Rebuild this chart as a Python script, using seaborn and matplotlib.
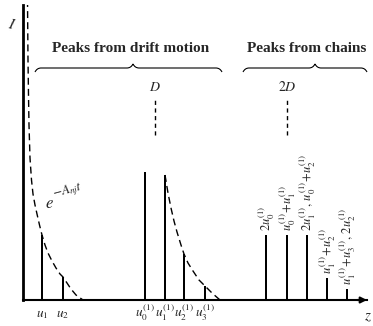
import matplotlib
matplotlib.use("Agg")
import matplotlib.pyplot as plt
import numpy as np
import pandas as pd
import seaborn as sns
from matplotlib.path import Path
from matplotlib.patches import PathPatch

# Peak positions (z) and intensities
drift_pos = [19, 40, 122, 142, 161, 182]
drift_h = [65, 23, 128, 125, 46, 14]
drift_labels = [r"$u_1$", r"$u_2$", r"$u_0^{(1)}$", r"$u_1^{(1)}$",
                r"$u_2^{(1)}$", r"$u_3^{(1)}$"]

chain_pos = [243, 264, 284, 304, 324]
chain_h = [65, 65, 65, 22, 11]
chain_labels = [r"$2u_0^{(1)}$",
                r"$u_0^{(1)}\!+\!u_1^{(1)}$",
                r"$2u_1^{(1)},\,u_0^{(1)}\!+\!u_2^{(1)}$",
                r"$u_1^{(1)}\!+\!u_2^{(1)}$",
                r"$u_1^{(1)}\!+\!u_3^{(1)},\,2u_2^{(1)}$"]

# Decay envelopes (dashed)
env1_z = [4.5, 5, 5.5, 6, 7, 8.5, 10, 12, 14, 16.5, 19, 22, 25, 29, 33, 37, 40, 44, 48, 53, 60]
env1_h = [300, 240, 205, 175, 142, 120, 106, 95, 86, 75, 65, 55, 47, 39, 32, 26, 23, 17, 11, 5, 0]
env2_z = [142, 145, 148, 151, 154, 158, 161, 165, 170, 176, 182, 189, 197]
env2_h = [125, 107, 92, 79, 68, 55, 46, 37, 29, 20, 14, 7, 0]

D_pos = 132
group_titles = ["Peaks from drift motion", "Peaks from chains"]
brace_spans = [(12, 199, 110), (220, 344, 292)]

sns.set_theme(style="white")
plt.rcParams["mathtext.fontset"] = "stix"
plt.rcParams["font.family"] = ["Liberation Serif", "DejaVu Serif"]

fig = plt.figure(figsize=(3.73, 3.26), dpi=100)
ax = fig.add_axes([23 / 373, 26 / 326, (367 - 23) / 373, (300 - 5) / 326])

peaks = pd.DataFrame({"z": drift_pos + chain_pos, "I": drift_h + chain_h})
sns.barplot(data=peaks, x="z", y="I", native_scale=True, width=0.15,
            color="black", errorbar=None, linewidth=0, ax=ax)

sns.lineplot(x=env1_z, y=env1_h, sort=False, estimator=None, color="black",
             linestyle=(0, (5, 3)), linewidth=1.0, ax=ax)
sns.lineplot(x=env2_z, y=env2_h, sort=False, estimator=None, color="black",
             linestyle=(0, (5, 3)), linewidth=1.0, ax=ax)

ax.set_xlim(0, 344)
ax.set_ylim(0, 295)
ax.set_xticks([])
ax.set_yticks([])
ax.set_xlabel("")
ax.set_ylabel("")
for s in ["top", "right"]:
    ax.spines[s].set_visible(False)
ax.spines["left"].set_linewidth(2.0)
ax.spines["bottom"].set_linewidth(1.5)
ax.spines["left"].set_color("black")
ax.spines["bottom"].set_color("black")
ax.annotate("", xy=(344, 0), xytext=(334, 0), annotation_clip=False,
            arrowprops=dict(arrowstyle="-|>", color="black", lw=1.5,
                            mutation_scale=9, shrinkA=0, shrinkB=0))

# Labels under the drift peaks
for z, lab in zip(drift_pos, drift_labels):
    ax.text(z, -17, lab, ha="center", va="baseline", fontsize=9.5,
            clip_on=False)

# Vertical labels over the chain peaks
for z, h, lab in zip(chain_pos, chain_h, chain_labels):
    ax.text(z + 1, h + 4, lab, rotation=90, rotation_mode="anchor",
            ha="left", va="center", fontsize=9, clip_on=False)

# Envelope label e^{-A_nj t}
ax.text(22, 92, r"$e$", fontsize=12, ha="left", va="baseline")
ax.text(30, 103, r"$-A_{nj}t$", rotation=15, rotation_mode="anchor",
        fontsize=9.5, ha="left", va="baseline")

# D and 2D markers
for z, lab in [(D_pos, r"$D$"), (2 * D_pos, r"$2D$")]:
    ax.plot([z, z], [165, 203], color="black", lw=1.0,
            linestyle=(0, (3, 2.5)))
    ax.text(z, 206, lab, ha="center", va="bottom", fontsize=10)

# Braces with group titles
for (x0, x1, tip), title in zip(brace_spans, group_titles):
    yb = 232
    verts = [(x0, yb - 4), (x0 + 2, yb), (x0 + 6, yb),
             (tip - 6, yb), (tip - 2, yb), (tip, yb + 4),
             (tip + 2, yb), (tip + 6, yb),
             (x1 - 6, yb), (x1 - 2, yb), (x1, yb - 4)]
    codes = [Path.MOVETO, Path.CURVE3, Path.CURVE3,
             Path.LINETO, Path.CURVE3, Path.CURVE3,
             Path.CURVE3, Path.CURVE3,
             Path.LINETO, Path.CURVE3, Path.CURVE3]
    ax.add_patch(PathPatch(Path(verts, codes), fill=False, lw=0.8,
                           color="black", clip_on=False))
    ax.text((x0 + x1) / 2 + 2, 245, title, ha="center", va="bottom",
            fontsize=11, fontweight="bold", clip_on=False)

ax.text(-11, 268, r"$I$", fontsize=11, ha="center", va="bottom",
        rotation=-10, clip_on=False)
ax.text(345, -11, r"$z$", fontsize=11, ha="center", va="top", clip_on=False)

fig.savefig("out.png", dpi=100, facecolor="white")
